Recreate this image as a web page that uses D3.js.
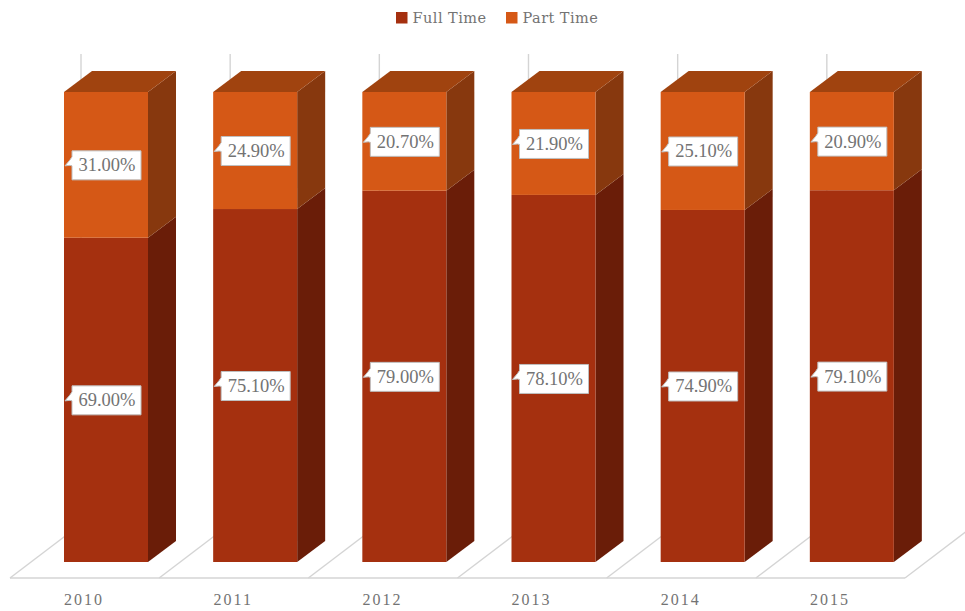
<!DOCTYPE html>
<html><head><meta charset="utf-8">
<script src="https://cdn.jsdelivr.net/npm/d3@7/dist/d3.min.js"></script>
<style>html,body{margin:0;padding:0;background:#fff;overflow:hidden}svg{display:block}</style>
</head><body><svg id="c" width="965" height="611"></svg>
<script>
const categories = ["2010","2011","2012","2013","2014","2015"];
const fullTime = [69.0,75.1,79.0,78.1,74.9,79.1];
const partTime = [31.0,24.9,20.7,21.9,25.1,20.9];
const seriesNames = ["Full Time","Part Time"];
const FONT = "'Liberation Serif',serif";
const LEGEND_FONT = "'DejaVu Serif',serif";
const colors = {
  "Full Time":{front:"#A5300F",side:"#6A1D08",top:"#7F2A0E"},
  "Part Time":{front:"#D55816",side:"#87380E",top:"#A0430F"}
};
const svg = d3.select("#c");
const floorX = d3.scaleBand().domain(categories).range([10,905]);
const y = d3.scaleLinear().domain([0,100]).range([562,92]);
const dx = 28, dy = -21, barW = 84, barInset = 54;
const floorY = 578, slope = 0.76, wallTop = 54, wallDx = 71;
const grid = svg.append("g").attr("stroke","#D4D4D4").attr("stroke-width",1.4).attr("fill","none");
const floorTicks = categories.map(c=>floorX(c)).concat([floorX.range()[1]]);
grid.append("line").attr("x1",10).attr("x2",905).attr("y1",floorY).attr("y2",floorY);
floorTicks.forEach(t=>{
  grid.append("line").attr("x1",t).attr("y1",floorY).attr("x2",t+wallDx).attr("y2",floorY-wallDx*slope);
  grid.append("line").attr("x1",t+wallDx).attr("y1",floorY-wallDx*slope).attr("x2",t+wallDx).attr("y2",wallTop);
});
const pts = a=>a.map(p=>p.join(",")).join(" ");
categories.forEach((c,i)=>{
  const x0 = floorX(c)+barInset, x1 = x0+barW;
  const stack = [
    {name:seriesNames[0],lo:0,hi:fullTime[i],v:fullTime[i]},
    {name:seriesNames[1],lo:fullTime[i],hi:100,v:partTime[i]}
  ];
  const g = svg.append("g");
  stack.forEach(s=>{
    const yl=y(s.lo), yh=y(s.hi), col=colors[s.name];
    g.append("polygon").attr("points",pts([[x1,yh],[x1+dx,yh+dy],[x1+dx,yl+dy],[x1,yl]])).attr("fill",col.side);
    g.append("rect").attr("x",x0).attr("y",yh).attr("width",barW).attr("height",yl-yh).attr("fill",col.front);
    if(s.hi===100) g.append("polygon").attr("points",pts([[x0,yh],[x0+dx,yh+dy],[x1+dx,yh+dy],[x1,yh]])).attr("fill",col.top);
  });
  stack.forEach(s=>{
    const cy=(y(s.lo)+y(s.hi))/2+0.5, bx=x0+8, bw=69, bh=29, by=cy-bh/2;
    const lab=svg.append("g");
    lab.append("path")
      .attr("d",`M${bx},${by} H${bx+bw} V${by+bh} H${bx} V${cy+0.5} L${bx-2},${cy} L${bx-7},${cy+0.5} L${bx-2},${by+9} L${bx},${by+6} Z`)
      .attr("fill","#fff").attr("stroke","#BFBFBF").attr("stroke-width",1);
    lab.append("text").attr("x",bx+bw/2+0.5).attr("y",cy+6).attr("text-anchor","middle")
      .attr("font-family",FONT).attr("font-size",18.5).attr("fill","#737373").text(s.v.toFixed(2)+"%");
  });
  svg.append("text").attr("x",floorX(c)+floorX.bandwidth()/2-0.5).attr("y",605).attr("text-anchor","middle")
    .attr("font-family",FONT).attr("font-size",16).attr("letter-spacing",2).attr("fill","#737373").text(c);
});
const legendX = d3.scaleOrdinal().domain(seriesNames).range([396,506]);
seriesNames.forEach(n=>{
  svg.append("rect").attr("x",legendX(n)).attr("y",12).attr("width",11.5).attr("height",11.5).attr("fill",colors[n].front);
  svg.append("text").attr("x",legendX(n)+16.5).attr("y",23).attr("font-family",LEGEND_FONT).attr("font-size",14.5)
    .attr("letter-spacing",0.45).attr("fill","#737373").text(n);
});
</script></body></html>
